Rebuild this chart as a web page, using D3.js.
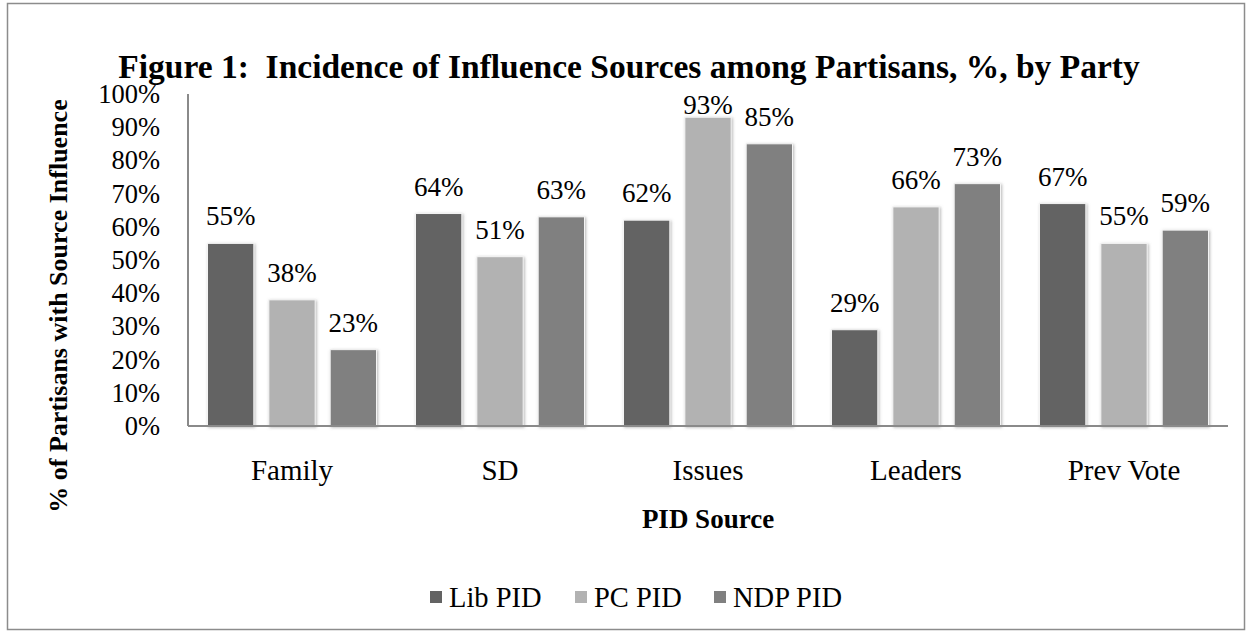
<!DOCTYPE html>
<html>
<head>
<meta charset="utf-8">
<script src="https://cdn.jsdelivr.net/npm/d3@7"></script>
<style>
  body { margin: 0; background: #fff; }
  text { font-family: "Liberation Serif", "Times New Roman", serif; fill: #000; }
</style>
</head>
<body>
<div id="plot"></div>
<script>
// chart data
var categories = ['Family', 'SD', 'Issues', 'Leaders', 'Prev Vote'];
var seriesNames = ['Lib PID', 'PC PID', 'NDP PID'];
var libValues = [55, 64, 62, 29, 67];
var pcValues = [38, 51, 93, 66, 55];
var ndpValues = [23, 63, 85, 73, 59];
var yTicks = [0, 10, 20, 30, 40, 50, 60, 70, 80, 90, 100];
var colors = ['#636363', '#b2b2b2', '#808080'];

var W = 1252, H = 632;
var margin = {t:94, r:24, b:206, l:188};
var width = W - margin.l - margin.r,
    height = H - margin.t - margin.b;
var serif = '"Liberation Serif", "Times New Roman", serif';

var svg = d3.select('#plot')
  .append('svg')
  .attr('width', W)
  .attr('height', H);

// soft shadow like the office chart
var defs = svg.append('defs');
var f = defs.append('filter').attr('id', 'shadow')
  .attr('x', '-20%').attr('y', '-10%').attr('width', '140%').attr('height', '120%');
f.append('feDropShadow').attr('dx', 1).attr('dy', 1)
  .attr('stdDeviation', 1.6).attr('flood-color', '#777').attr('flood-opacity', 0.55);

// outer frame
svg.append('rect')
  .attr('x', 7.5).attr('y', 3.5)
  .attr('width', 1237).attr('height', 626)
  .attr('fill', 'none').attr('stroke', '#8c8c8c').attr('stroke-width', 1.5);

var plot = svg.append('g')
  .attr('transform', 'translate(' + margin.l + ',' + margin.t + ')');

var data = categories.map(function(c, i) {
  return {cat: c, vals: [libValues[i], pcValues[i], ndpValues[i]]};
});

var x0 = d3.scaleBand().domain(categories).range([0, width]).padding(0);
var x1 = d3.scaleBand().domain(seriesNames)
  .range([19.5, x0.bandwidth() - 19.5]).paddingInner(0.245);
var y = d3.scaleLinear().domain([0, 100]).range([height, 0]);

// y tick labels
var yAxis = d3.axisLeft(y).tickValues(yTicks)
  .tickFormat(function(d) { return d + '%'; })
  .tickSize(0).tickPadding(28);
var ga = plot.append('g').call(yAxis).attr('font-family', serif);
ga.select('.domain').remove();
ga.selectAll('text').style('font-size', '26.5px').style('font-family', serif);

// bars
var groups = plot.selectAll('.grp')
  .data(data).enter().append('g')
  .attr('transform', function(d) { return 'translate(' + x0(d.cat) + ',0)'; });

groups.selectAll('rect')
  .data(function(d) { return d.vals; })
  .enter().append('rect')
  .attr('x', function(d, i) { return x1(seriesNames[i]); })
  .attr('y', function(d) { return y(d); })
  .attr('width', x1.bandwidth())
  .attr('height', function(d) { return height - y(d); })
  .attr('fill', function(d, i) { return colors[i]; })
  .attr('stroke', '#f4f4f4').attr('stroke-width', 1)
  .attr('filter', 'url(#shadow)');

// value labels, kept inside the plot area like excel does
groups.selectAll('.lbl')
  .data(function(d) { return d.vals; })
  .enter().append('text')
  .attr('class', 'lbl')
  .attr('x', function(d, i) { return x1(seriesNames[i]) + x1.bandwidth() / 2; })
  .attr('y', function(d) { return Math.max(y(d) - 18, 20); })
  .attr('text-anchor', 'middle')
  .style('font-size', '27px').style('font-family', serif)
  .text(function(d) { return d + '%'; });

// axis lines
plot.append('line')
  .attr('x1', 0).attr('x2', 0).attr('y1', 0).attr('y2', height)
  .attr('stroke', '#8a8a8a').attr('stroke-width', 2);
plot.append('line')
  .attr('x1', 0).attr('x2', width).attr('y1', height).attr('y2', height)
  .attr('stroke', '#8a8a8a').attr('stroke-width', 2);

// category labels
var xAxis = d3.axisBottom(x0).tickSize(0).tickPadding(33);
var gx = plot.append('g').attr('transform', 'translate(0,' + height + ')')
  .call(xAxis).attr('font-family', serif);
gx.select('.domain').remove();
gx.selectAll('text').style('font-size', '29px').style('font-family', serif);

// titles
svg.append('text')
  .attr('x', 629).attr('y', 78)
  .attr('text-anchor', 'middle')
  .attr('xml:space', 'preserve').style('white-space', 'pre')
  .style('font-size', '33.5px').style('font-weight', 'bold').style('font-family', serif)
  .text('Figure 1:  Incidence of Influence Sources among Partisans, %, by Party');

svg.append('text')
  .attr('x', margin.l + width / 2).attr('y', 528)
  .attr('text-anchor', 'middle')
  .style('font-size', '27px').style('font-weight', 'bold').style('font-family', serif)
  .text('PID Source');

svg.append('text')
  .attr('transform', 'translate(67,' + (margin.t + 212) + ') rotate(-90)')
  .attr('text-anchor', 'middle')
  .style('font-size', '26px').style('font-weight', 'bold').style('font-family', serif)
  .text('% of Partisans with Source Influence');

// legend
var legX = [430, 575, 714];
var leg = svg.append('g');
seriesNames.forEach(function(s, i) {
  leg.append('rect')
    .attr('x', legX[i]).attr('y', 591)
    .attr('width', 12).attr('height', 12)
    .attr('fill', colors[i]);
  leg.append('text')
    .attr('x', legX[i] + 19).attr('y', 607)
    .style('font-size', '28.5px').style('font-family', serif)
    .text(s);
});
</script>
</body>
</html>
